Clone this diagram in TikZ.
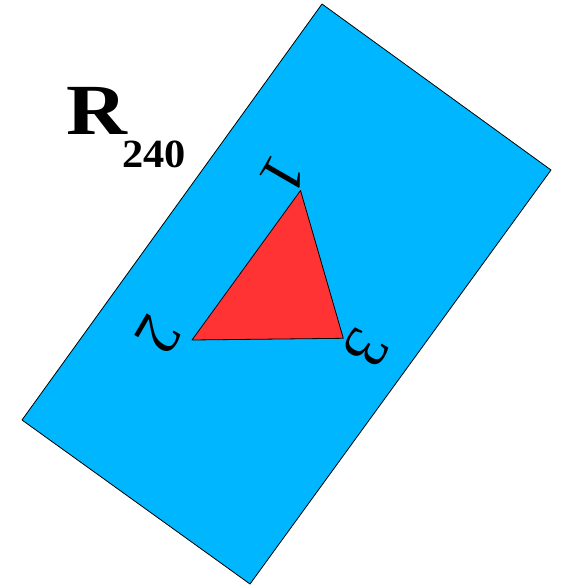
\documentclass[tikz,border=0pt]{standalone}
\usepackage{fontspec}
\setmainfont{Liberation Serif}
\definecolor{rectblue}{RGB}{0,183,255}
\definecolor{trired}{RGB}{255,51,51}
\begin{document}
\begin{tikzpicture}[x=1pt,y=-1pt,line join=round,line cap=round,line width=0.8pt,
    vlabel/.style={font=\fontsize{62}{62}\selectfont,rotate=240,inner sep=0pt}]
	\useasboundingbox (0,0) rectangle (561,588);
	
	% --- Rotated rectangle ---
	\coordinate (A) at (322,4);
	\coordinate (B) at (551,170);
	\coordinate (C) at (250,584);
	\coordinate (D) at (22,420);
	\draw[fill=rectblue] (A)--(B)--(C)--(D)--cycle;
	
	% --- Triangle ---
	\coordinate (P1) at (300.5,190.5);
	\coordinate (P2) at (192,340);
	\coordinate (P3) at (343.3,338.3);
	\draw[fill=trired] (P1)--(P2)--(P3)--cycle;
	
	% --- Vertex labels (rotated by 240) ---
	\node[vlabel] (n1) at (283,175) {1};
	\node[vlabel] (n2) at (159,335) {2};
	\node[vlabel] (n3) at (366,348) {3};
	
	% --- Title ---
	\node[font=\bfseries\fontsize{72}{72}\selectfont,anchor=base west,inner sep=0pt] (title) at (66,135)
		{\scalebox{1.17}[1]{R}\hspace{-5pt}\raisebox{-33pt}{\fontsize{40}{40}\selectfont\scalebox{1.06}[1]{240}}};
\end{tikzpicture}
\end{document}
